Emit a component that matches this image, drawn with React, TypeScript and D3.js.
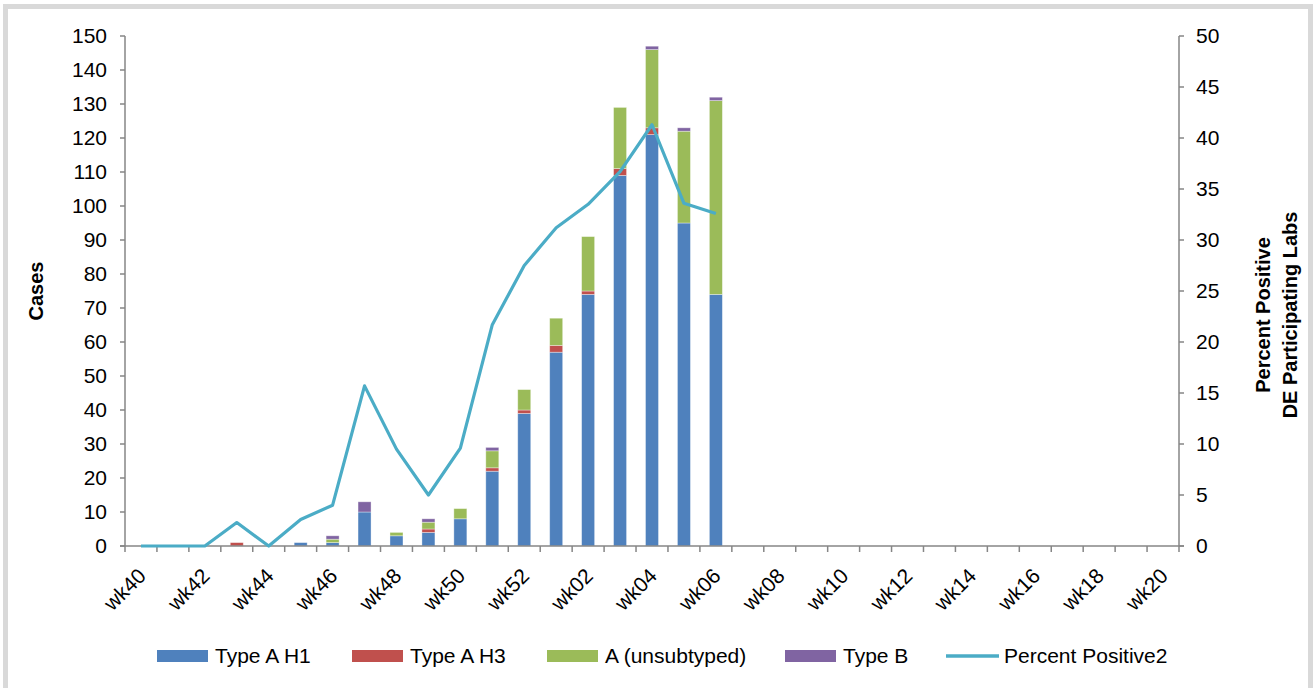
import React from 'react';
import * as d3 from 'd3';

const weeks = [
  'wk40', 'wk41', 'wk42', 'wk43', 'wk44', 'wk45', 'wk46', 'wk47', 'wk48', 'wk49', 'wk50', 'wk51', 'wk52',
  'wk01', 'wk02', 'wk03', 'wk04', 'wk05', 'wk06', 'wk07', 'wk08', 'wk09', 'wk10', 'wk11', 'wk12', 'wk13',
  'wk14', 'wk15', 'wk16', 'wk17', 'wk18', 'wk19', 'wk20',
];

// observed weeks wk40..wk06
const typeAH1 = [0, 0, 0, 0, 0, 1, 1, 10, 3, 4, 8, 22, 39, 57, 74, 109, 121, 95, 74];
const typeAH3 = [0, 0, 0, 1, 0, 0, 0, 0, 0, 1, 0, 1, 1, 2, 1, 2, 2, 0, 0];
const aUnsubtyped = [0, 0, 0, 0, 0, 0, 1, 0, 1, 2, 3, 5, 6, 8, 16, 18, 23, 27, 57];
const typeB = [0, 0, 0, 0, 0, 0, 1, 3, 0, 1, 0, 1, 0, 0, 0, 0, 1, 1, 1];
const percentPositive = [0, 0, 0, 2.3, 0, 2.6, 4.0, 15.7, 9.5, 5.0, 9.6, 21.7, 27.5, 31.2, 33.5, 36.7, 41.3, 33.6, 32.6];

const leftTicks = [0, 10, 20, 30, 40, 50, 60, 70, 80, 90, 100, 110, 120, 130, 140, 150];
const rightTicks = [0, 5, 10, 15, 20, 25, 30, 35, 40, 45, 50];

const seriesKeys = ['Type A H1', 'Type A H3', 'A (unsubtyped)', 'Type B'];
const seriesColors = ['#4F81BD', '#C0504D', '#9BBB59', '#8064A2'];
const lineColor = '#4BACC6';

const W = 1313;
const H = 688;
const left = 125;
const right = 1179;
const top = 36;
const bottom = 546;
const font = '"Liberation Sans", Arial, sans-serif';

export default function App() {
  const x = d3.scaleBand<string>().domain(weeks).range([left, right]).padding(0);
  const bw = 13;
  const yL = d3.scaleLinear().domain([0, 150]).range([bottom, top]);
  const yR = d3.scaleLinear().domain([0, 50]).range([bottom, top]);

  const rows = typeAH1.map((v, i) => ({
    week: weeks[i],
    'Type A H1': v,
    'Type A H3': typeAH3[i],
    'A (unsubtyped)': aUnsubtyped[i],
    'Type B': typeB[i],
  }));
  const stack = d3.stack<any>().keys(seriesKeys)(rows);

  const line = d3.line<number>()
    .x((_, i) => (x(weeks[i]) || 0) + x.bandwidth() / 2)
    .y(d => yR(d));

  const boundaries = d3.range(weeks.length + 1).map(i => left + i * x.bandwidth());

  const legendItems = [
    { label: 'Type A H1', color: seriesColors[0], x: 157, line: false },
    { label: 'Type A H3', color: seriesColors[1], x: 352, line: false },
    { label: 'A (unsubtyped)', color: seriesColors[2], x: 547, line: false },
    { label: 'Type B', color: seriesColors[3], x: 785, line: false },
    { label: 'Percent Positive2', color: lineColor, x: 946, line: true },
  ];

  return (
    <svg width={W} height={H} style={{ position: 'absolute', left: 0, top: 0, background: '#fff' }}
      fontFamily={font}>
      {/* frame */}
      <path d={`M5.5,${H + 5} V6.5 H1310.5 V${H + 5}`} fill="none" stroke="#d9d9d9" strokeWidth={5} />

      {/* bars */}
      {stack.map((s, si) => (
        <g key={si} fill={seriesColors[si]}>
          {s.map((d, i) => {
            const h = yL(d[0]) - yL(d[1]);
            if (h <= 0) return null;
            return (
              <rect key={i}
                x={(x(weeks[i]) || 0) + (x.bandwidth() - bw) / 2}
                y={yL(d[1])}
                width={bw}
                height={h}
                stroke="rgba(255,255,255,0.45)"
                strokeWidth={0.8}
              />
            );
          })}
        </g>
      ))}

      {/* axes */}
      <g stroke="#868686" strokeWidth={1.5} fill="none">
        <line x1={left} x2={left} y1={top} y2={bottom} />
        {leftTicks.map(t => <line key={t} x1={left - 5} x2={left} y1={yL(t)} y2={yL(t)} />)}
        <line x1={right} x2={right} y1={top} y2={bottom} />
        {rightTicks.map(t => <line key={t} x1={right} x2={right + 5} y1={yR(t)} y2={yR(t)} />)}
        <line x1={left - 5} x2={right + 5} y1={bottom} y2={bottom} />
        {boundaries.map((b, i) => <line key={i} x1={b} x2={b} y1={bottom} y2={bottom + 6} />)}
      </g>

      {/* percent positive line */}
      <path d={line(percentPositive) || ''} fill="none" stroke={lineColor} strokeWidth={3.2}
        strokeLinejoin="round" />

      {/* tick labels */}
      <g fontSize={21} fill="#000">
        {leftTicks.map(t => (
          <text key={t} x={107} y={yL(t)} dy="0.35em" textAnchor="end">{t}</text>
        ))}
        {rightTicks.map(t => (
          <text key={t} x={1196} y={yR(t)} dy="0.35em" textAnchor="start">{t}</text>
        ))}
        {weeks.map((w, i) => i % 2 === 0 ? (
          <text key={w} transform={`translate(${(x(w) || 0) + x.bandwidth() / 2 + 1},${bottom + 26}) rotate(-45)`}
            textAnchor="end" dy="0.35em">{w}</text>
        ) : null)}
      </g>

      {/* axis titles */}
      <text transform={`translate(43,291) rotate(-90)`} textAnchor="middle" fontSize={20} fontWeight="bold">Cases</text>
      <text transform={`translate(1270,315) rotate(-90)`} textAnchor="middle" fontSize={20} fontWeight="bold">
        Percent Positive
      </text>
      <text transform={`translate(1297,315) rotate(-90)`} textAnchor="middle" fontSize={20} fontWeight="bold">
        DE Participating Labs
      </text>

      {/* legend */}
      <g fontSize={21}>
        {legendItems.map(item => (
          <g key={item.label}>
            {item.line
              ? <line x1={item.x} x2={item.x + 53} y1={656} y2={656} stroke={item.color} strokeWidth={3.5} />
              : <rect x={item.x} y={650} width={51} height={12} fill={item.color} />}
            <text x={item.x + 58} y={663}>{item.label}</text>
          </g>
        ))}
      </g>
    </svg>
  );
}
